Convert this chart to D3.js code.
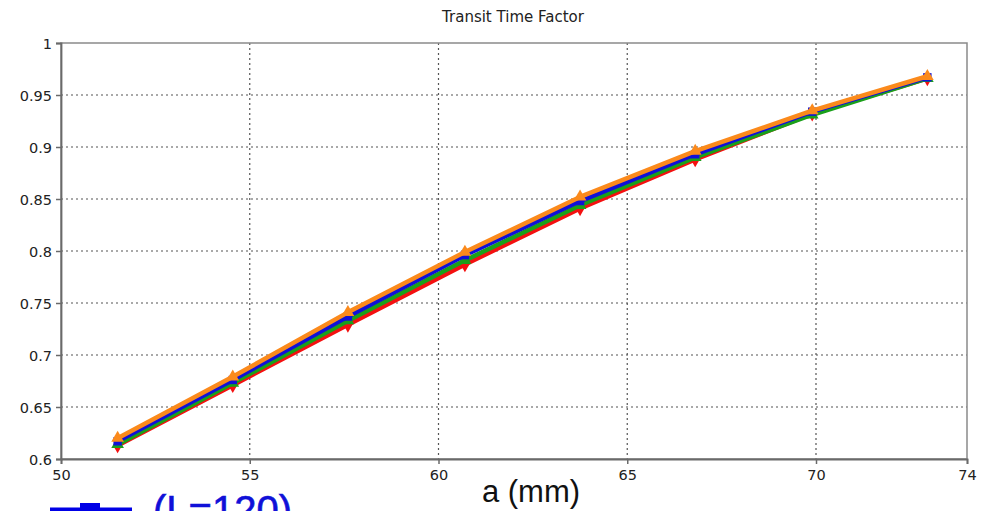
<!DOCTYPE html>
<html>
<head>
<meta charset="utf-8">
<script src="https://cdn.jsdelivr.net/npm/d3@7"></script>
<style>
  body { margin: 0; background: #fff; }
  svg { display: block; }
</style>
</head>
<body>
<svg id="chart"></svg>
<script>
// data
const aValues = [51.5, 54.55, 57.6, 60.7, 63.75, 66.8, 69.9, 72.95];
const redValues    = [0.613, 0.671, 0.729, 0.787, 0.841, 0.888, 0.932, 0.966];
const greenValues  = [0.614, 0.673, 0.733, 0.791, 0.844, 0.890, 0.931, 0.966];
const blueValues   = [0.617, 0.676, 0.737, 0.796, 0.848, 0.893, 0.934, 0.967];
const orangeValues = [0.620, 0.679, 0.741, 0.799, 0.852, 0.896, 0.935, 0.968];
const xTicks = [50, 55, 60, 65, 70, 74];
const yTicks = [0.6, 0.65, 0.7, 0.75, 0.8, 0.85, 0.9, 0.95, 1];

const series = [
  { name: "red", color: "#f41010", values: redValues, symbol: d3.symbolDiamond },
  { name: "green", color: "#1aa01a", values: greenValues, symbol: d3.symbolTriangle },
  { name: "blue", color: "#1010d8", values: blueValues, symbol: d3.symbolSquare },
  { name: "orange", color: "#fb8a1c", values: orangeValues, symbol: d3.symbolTriangle }
];

const svg = d3.select("#chart").attr("width", 993).attr("height", 511);

const margin = { left: 61, top: 43, right: 26, bottom: 52 };
const width = 993 - margin.left - margin.right;
const height = 511 - margin.top - margin.bottom;

const x = d3.scaleLinear().domain([50, 74]).range([margin.left, margin.left + width]);
const y = d3.scaleLinear().domain([0.6, 1]).range([margin.top + height, margin.top]);

// titre
svg.append("text")
  .attr("x", 513).attr("y", 22)
  .attr("text-anchor", "middle")
  .attr("font-family", "DejaVu Sans, sans-serif")
  .attr("font-size", 15)
  .attr("fill", "#222")
  .text("Transit Time Factor");

// grille
const grid = svg.append("g").attr("stroke", "#555").attr("stroke-width", 1.2).attr("stroke-dasharray", "2,3");
grid.selectAll(".gx")
  .data(xTicks.filter(d => d > 50 && d < 74))
  .join("line")
  .attr("x1", d => x(d)).attr("x2", d => x(d))
  .attr("y1", margin.top).attr("y2", margin.top + height);
grid.selectAll(".gy")
  .data(yTicks.filter(d => d > 0.6 && d < 1))
  .join("line")
  .attr("x1", margin.left).attr("x2", margin.left + width)
  .attr("y1", d => y(d)).attr("y2", d => y(d));

// cadre
svg.append("rect")
  .attr("x", margin.left).attr("y", margin.top)
  .attr("width", width).attr("height", height)
  .attr("fill", "none").attr("stroke", "#8a8a8a").attr("stroke-width", 1.5);

// axes
const xAxis = svg.append("g")
  .attr("transform", `translate(0,${margin.top + height})`)
  .call(d3.axisBottom(x).tickValues(xTicks).tickFormat(d3.format("d")).tickSize(5).tickPadding(6));
const yAxis = svg.append("g")
  .attr("transform", `translate(${margin.left},0)`)
  .call(d3.axisLeft(y).tickValues(yTicks).tickFormat(d => d3.format("")(+d.toFixed(2))).tickSize(5).tickPadding(4));

[xAxis, yAxis].forEach(ax => {
  ax.select(".domain").attr("stroke", "#6a6a6a").attr("stroke-width", 1.8);
  ax.selectAll(".tick line").attr("stroke", "#6a6a6a").attr("stroke-width", 1.5);
  ax.selectAll(".tick text")
    .attr("font-family", "DejaVu Sans, sans-serif")
    .attr("font-size", 14.5)
    .attr("fill", "#222");
});
yAxis.selectAll(".tick text").attr("dy", "0.36em");

// courbes
const line = d3.line()
  .x((d, i) => x(aValues[i]))
  .y(d => y(d));

series.forEach(s => {
  svg.append("path")
    .datum(s.values)
    .attr("fill", "none")
    .attr("stroke", s.color)
    .attr("stroke-width", 4.5)
    .attr("stroke-linejoin", "round")
    .attr("d", line);
  svg.selectAll(null)
    .data(s.values)
    .join("path")
    .attr("transform", (d, i) => `translate(${x(aValues[i])},${y(d)})`)
    .attr("d", d3.symbol().type(s.symbol).size(70))
    .attr("fill", s.color);
});

// label axe x
svg.append("text")
  .attr("x", 531).attr("y", 502)
  .attr("text-anchor", "middle")
  .attr("font-family", "Liberation Sans, Arial, sans-serif")
  .attr("font-size", 31)
  .attr("fill", "#111")
  .text("a (mm)");

// morceau de légende coupé en bas
svg.append("line")
  .attr("x1", 50).attr("x2", 132)
  .attr("y1", 510).attr("y2", 510)
  .attr("stroke", "#0000e6").attr("stroke-width", 5);
svg.append("rect")
  .attr("x", 80).attr("y", 503)
  .attr("width", 20).attr("height", 14)
  .attr("fill", "#0000e6");
svg.append("text")
  .attr("x", 153).attr("y", 524)
  .attr("font-family", "Liberation Sans, Arial, sans-serif")
  .attr("font-size", 40)
  .attr("fill", "#1010d8")
  .attr("stroke", "#1010d8")
  .attr("stroke-width", 0.6)
  .text("(L=120)");
</script>
</body>
</html>
